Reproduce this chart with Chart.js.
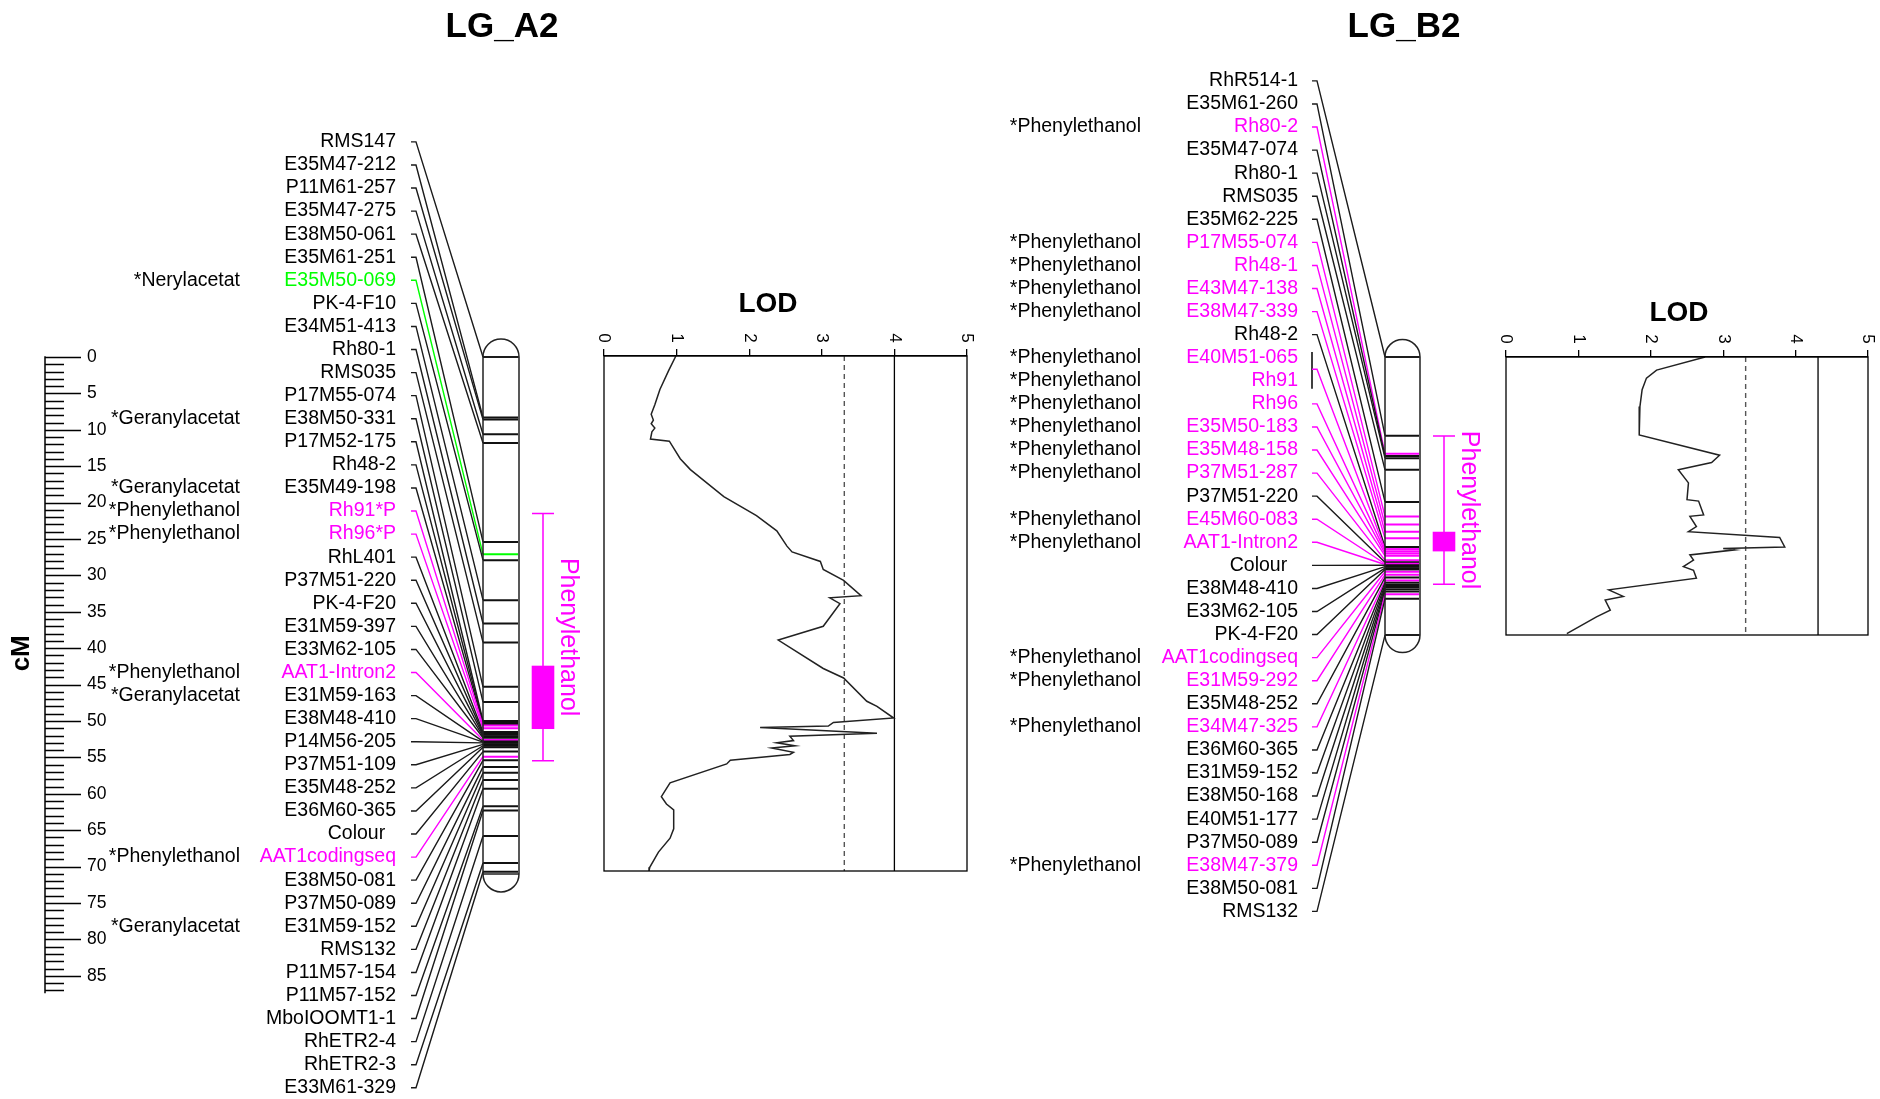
<!DOCTYPE html>
<html>
<head>
<meta charset="utf-8">
<script src="https://cdn.jsdelivr.net/npm/chart.js@4.4.1/dist/chart.umd.min.js"></script>
<style>
  body { margin: 0; background: #fff; }
  #wrap { position: relative; width: 1880px; height: 1099px; }
  canvas { position: absolute; }
</style>
</head>
<body>
<div id="wrap">
  <canvas id="mapa" width="1880" height="1099" style="left:0;top:0"></canvas>
  <canvas id="lodA" width="440" height="620" style="left:560px;top:270px"></canvas>
  <canvas id="lodB" width="420" height="380" style="left:1460px;top:270px"></canvas>
</div>
<script>
// ---- LG_A2 ----
const a2Markers = ['RMS147','E35M47-212','P11M61-257','E35M47-275','E38M50-061','E35M61-251','E35M50-069',
  'PK-4-F10','E34M51-413','Rh80-1','RMS035','P17M55-074','E38M50-331','P17M52-175','Rh48-2','E35M49-198',
  'Rh91*P','Rh96*P','RhL401','P37M51-220','PK-4-F20','E31M59-397','E33M62-105','AAT1-Intron2','E31M59-163',
  'E38M48-410','P14M56-205','P37M51-109','E35M48-252','E36M60-365','Colour  ','AAT1codingseq','E38M50-081',
  'P37M50-089','E31M59-152','RMS132','P11M57-154','P11M57-152','MboIOOMT1-1','RhETR2-4','RhETR2-3','E33M61-329'];
const a2Pos = [0, 8.3, 8.6, 10.6, 11.8, 25.4, 27.1, 27.9, 33.4, 36.6, 39.2, 45.3, 47.4, 50.0, 50.2, 50.4,
  50.6, 51.0, 51.5, 51.7, 51.9, 52.1, 52.3, 52.6, 52.8, 52.9, 53.0, 53.2, 53.4, 53.6, 54.2, 54.9, 55.4,
  56.3, 57.1, 58.1, 59.3, 61.7, 62.3, 65.8, 69.5, 70.7];
const a2Type = 'kkkkkkgkkkkkkkkkmmkkkkkmkkkkkkkmkkkkkkkkkk'.split('');
const a2NoteRows = [7, 13, 16, 17, 18, 24, 25, 32, 35];
const a2NoteText = ['*Nerylacetat','*Geranylacetat','*Geranylacetat','*Phenylethanol','*Phenylethanol',
  '*Phenylethanol','*Geranylacetat','*Phenylethanol','*Geranylacetat'];
const a2Length = 71.0;
const a2Qtl = [21.5, 42.4, 51.1, 55.45];   // interval start, box start, box end, interval end (cM)

// ---- LG_B2 ----
const b2Markers = ['RhR514-1','E35M61-260','Rh80-2','E35M47-074','Rh80-1','RMS035','E35M62-225','P17M55-074',
  'Rh48-1','E43M47-138','E38M47-339','Rh48-2','E40M51-065','Rh91','Rh96','E35M50-183','E35M48-158',
  'P37M51-287','P37M51-220','E45M60-083','AAT1-Intron2','Colour  ','E38M48-410','E33M62-105','PK-4-F20',
  'AAT1codingseq','E31M59-292','E35M48-252','E34M47-325','E36M60-365','E31M59-152','E38M50-168',
  'E40M51-177','P37M50-089','E38M47-379','E38M50-081','RMS132'];
const b2Pos = [0, 10.8, 13.3, 13.6, 13.9, 15.5, 19.9, 21.9, 23.0, 24.0, 24.9, 26.1, 26.4, 26.4, 26.7, 27.0,
  27.3, 27.9, 28.2, 28.4, 28.5, 28.6, 28.8, 29.0, 29.2, 29.5, 29.9, 30.3, 30.7, 31.0, 31.3, 31.6, 31.9,
  32.2, 32.6, 33.2, 38.2];
const b2Type = 'kkmkkkkmmmmkmmmmmmkmmkkkkmmkmkkkkkmkk'.split('');
const b2NoteRows = [3, 8, 9, 10, 11, 13, 14, 15, 16, 17, 18, 20, 21, 26, 27, 29, 35];
const b2NoteText = b2NoteRows.map(() => '*Phenylethanol');
const b2Shared = [13, 14];   // these two rows share one connector
const b2Length = 38.2;
const b2Qtl = [10.85, 24.0, 26.7, 31.2];

// ---- LOD profiles (cM, LOD) ----
const lodA_cM = [0, 2.0, 4.6, 6.7, 8.0, 8.8, 9.3, 9.9, 10.4, 11.4, 11.7, 14.1, 15.6, 19.3, 21.9, 24.0, 26.1,
  26.9, 28.2, 29.3, 30.8, 32.9, 33.2, 34.0, 37.1, 39.0, 42.9, 44.2, 47.4, 48.1, 49.7, 50.3, 50.8, 51.0,
  51.8, 52.2, 52.8, 53.1, 53.5, 53.8, 54.4, 54.7, 55.5, 56.0, 58.6, 59.7, 60.5, 61.5, 62.3, 64.9, 66.2,
  68.1, 70.2, 70.7];
const lodA_val = [0.99, 0.89, 0.77, 0.70, 0.65, 0.68, 0.65, 0.70, 0.66, 0.64, 0.90, 1.05, 1.19, 1.65, 2.10,
  2.38, 2.52, 2.59, 2.98, 3.02, 3.30, 3.54, 3.11, 3.25, 3.02, 2.40, 3.02, 3.30, 3.62, 3.76, 3.99, 3.16,
  3.09, 2.15, 3.76, 2.56, 2.61, 2.38, 2.63, 2.31, 2.61, 2.56, 1.74, 1.69, 0.91, 0.84, 0.79, 0.86, 0.96,
  0.96, 0.91, 0.75, 0.63, 0.62];
const lodB_cM = [0, 1.8, 2.9, 4.5, 6.8, 10.7, 13.5, 14.5, 15.5, 17.3, 19.6, 19.8, 21.7, 21.9, 23.3, 24.0,
  24.8, 26.1, 26.3, 26.5, 27.2, 27.9, 28.8, 29.3, 30.4, 32.0, 32.9, 33.4, 34.8, 35.7, 38.0];
const lodB_val = [2.75, 2.08, 1.94, 1.88, 1.85, 1.84, 2.95, 2.84, 2.38, 2.52, 2.50, 2.66, 2.73, 2.54, 2.63,
  2.52, 3.78, 3.85, 3.00, 3.16, 2.54, 2.59, 2.45, 2.59, 2.63, 1.42, 1.62, 1.37, 1.44, 1.25, 0.84];
const lodTicks = [0, 1, 2, 3, 4, 5];
const thresholdA = [3.31, 4.0];
const thresholdB = [3.31, 4.31];

const rulerMax = 87;

// ---- drawing ----
const FONT = '"Liberation Sans", Arial, sans-serif';
const COL = { k: '#000000', m: '#FF00FF', g: '#00FF00' };
const CM_TOP = -49.04, CM_BOTTOM = 101.92;   // canvas height in cM
const ROW_STEP = 3.169;                      // label spacing in cM

const maps = [
  { title: 'LG_A2', titleX: 502, markers: a2Markers, pos: a2Pos, type: a2Type, noteRows: a2NoteRows,
    noteText: a2NoteText, length: a2Length, qtl: a2Qtl, firstRow: -29.55,
    noteX: 240, labelX: 396, tick0: 411, tick1: 416, left: 483, right: 519, qtlX: 543 },
  { title: 'LG_B2', titleX: 1404, markers: b2Markers, pos: b2Pos, type: b2Type, noteRows: b2NoteRows,
    noteText: b2NoteText, length: b2Length, qtl: b2Qtl, firstRow: -37.93, shared: b2Shared,
    noteX: 1141, labelX: 1298, tick0: 1312, tick1: 1317, left: 1385, right: 1420, qtlX: 1444 }
];

const rowY = (m, i) => m.firstRow + i * ROW_STEP;

function seg(points, color, width, order) {
  return { data: points, showLine: true, borderColor: color, borderWidth: width,
    pointRadius: 0, fill: false, tension: 0, order: order };
}

// markers further down the list are drawn on top, like the original plot
const datasets = [];
maps.forEach(m => {
  m.markers.forEach((name, i) => {
    const row = i + 1;
    const c = COL[m.type[i]];
    const ord = -i;
    if (!(m.shared && row === m.shared[0])) {
      let y0 = rowY(m, i);
      if (m.shared && row === m.shared[1]) y0 = (rowY(m, i - 1) + y0) / 2;
      datasets.push(seg([{ x: m.tick0, y: y0 }, { x: m.tick1, y: y0 }, { x: m.left, y: m.pos[i] }],
        m.type[i] === 'k' ? '#1a1a1a' : c, 1.4, ord));
    }
    datasets.push(seg([{ x: m.left, y: m.pos[i] }, { x: m.right - 1, y: m.pos[i] }],
      m.type[i] === 'k' ? '#111' : c, 2, ord));
  });
  if (m.shared) {
    const i0 = m.shared[0] - 1, i1 = m.shared[1] - 1;
    datasets.push(seg([{ x: m.tick0, y: rowY(m, i0) - 0.77 }, { x: m.tick0, y: rowY(m, i1) + 1.09 }],
      '#111', 1.6, 0));
  }
});

const mapDecor = {
  id: 'mapDecor',
  beforeDatasetsDraw(chart) {
    const { ctx, scales: { x, y } } = chart;
    ctx.save();
    ctx.fillStyle = '#fff';
    maps.forEach(m => { chromPath(ctx, x, y, m); ctx.fill(); });
    ctx.restore();
  },
  afterDatasetsDraw(chart) {
    const { ctx, scales: { x, y } } = chart;
    ctx.save();
    // cM ruler
    const rx = x.getPixelForValue(45);
    ctx.strokeStyle = '#000';
    ctx.lineWidth = 1.5;
    ctx.beginPath();
    ctx.moveTo(rx, y.getPixelForValue(-0.1));
    ctx.lineTo(rx, y.getPixelForValue(rulerMax + 0.4));
    for (let v = 0; v <= rulerMax; v++) {
      const py = Math.round(y.getPixelForValue(v)) + 0.5;
      ctx.moveTo(rx, py);
      ctx.lineTo(x.getPixelForValue(v % 5 === 0 ? 81 : 64), py);
    }
    ctx.stroke();
    ctx.fillStyle = '#000';
    ctx.font = '17.5px ' + FONT;
    ctx.textAlign = 'left';
    ctx.textBaseline = 'middle';
    for (let v = 0; v <= 85; v += 5) {
      ctx.fillText(String(v), x.getPixelForValue(87), y.getPixelForValue(v));
    }
    ctx.save();
    ctx.translate(x.getPixelForValue(22), y.getPixelForValue(40.7));
    ctx.rotate(-Math.PI / 2);
    ctx.font = 'bold 26px ' + FONT;
    ctx.textAlign = 'center';
    ctx.fillText('cM', 0, 0);
    ctx.restore();

    maps.forEach(m => {
      // chromosome outline
      ctx.strokeStyle = '#222';
      ctx.lineWidth = 1.5;
      chromPath(ctx, x, y, m);
      ctx.stroke();
      const L = x.getPixelForValue(m.left), R = x.getPixelForValue(m.right);
      ctx.beginPath();
      [0, m.length].forEach(v => {
        const py = y.getPixelForValue(v);
        ctx.moveTo(L, py); ctx.lineTo(R, py);
      });
      ctx.stroke();

      // QTL interval
      const qx = x.getPixelForValue(m.qtlX);
      const [lo, bLo, bHi, hi] = m.qtl.map(v => y.getPixelForValue(v));
      ctx.strokeStyle = COL.m;
      ctx.fillStyle = COL.m;
      ctx.lineWidth = 1.5;
      ctx.beginPath();
      ctx.moveTo(qx, lo); ctx.lineTo(qx, hi);
      ctx.moveTo(qx - 11, lo); ctx.lineTo(qx + 11, lo);
      ctx.moveTo(qx - 11, hi); ctx.lineTo(qx + 11, hi);
      ctx.stroke();
      ctx.fillRect(qx - 11.3, bLo, 22.6, bHi - bLo);
      ctx.save();
      ctx.translate(qx + 25, y.getPixelForValue((m.qtl[0] + m.qtl[3]) / 2));
      ctx.rotate(Math.PI / 2);
      ctx.font = '25px ' + FONT;
      ctx.textAlign = 'center';
      ctx.textBaseline = 'middle';
      ctx.fillText('Phenylethanol', 0, 0);
      ctx.restore();

      // marker labels and trait notes
      ctx.font = '19.5px ' + FONT;
      ctx.textAlign = 'right';
      ctx.textBaseline = 'middle';
      m.markers.forEach((name, i) => {
        ctx.fillStyle = COL[m.type[i]];
        ctx.fillText(name, x.getPixelForValue(m.labelX), y.getPixelForValue(rowY(m, i)));
      });
      ctx.fillStyle = '#000';
      m.noteRows.forEach((r, k) => {
        ctx.fillText(m.noteText[k], x.getPixelForValue(m.noteX), y.getPixelForValue(rowY(m, r - 1)));
      });

      // title
      ctx.font = 'bold 35px ' + FONT;
      ctx.textAlign = 'center';
      ctx.fillText(m.title, x.getPixelForValue(m.titleX), y.getPixelForValue(-45.3));
    });
    ctx.restore();
  }
};

function chromPath(ctx, x, y, m) {
  const L = x.getPixelForValue(m.left), R = x.getPixelForValue(m.right);
  const t = y.getPixelForValue(0), b = y.getPixelForValue(m.length);
  const cx = (L + R) / 2, r = (R - L) / 2;
  ctx.beginPath();
  ctx.moveTo(L, b);
  ctx.lineTo(L, t);
  ctx.arc(cx, t, r, Math.PI, 0, false);
  ctx.lineTo(R, b);
  ctx.arc(cx, b, r, 0, Math.PI, false);
  ctx.closePath();
}

new Chart(document.getElementById('mapa'), {
  type: 'scatter',
  data: { datasets: datasets },
  options: {
    responsive: false,
    animation: false,
    events: [],
    layout: { padding: 0, autoPadding: false },
    plugins: { legend: { display: false }, tooltip: { enabled: false } },
    scales: {
      x: { type: 'linear', min: 0, max: 1880, display: false },
      y: { type: 'linear', min: CM_TOP, max: CM_BOTTOM, reverse: true, display: false }
    }
  },
  plugins: [mapDecor]
});

// ---- LOD plots ----
const lodDecor = {
  id: 'lodDecor',
  afterDraw(chart, args, opts) {
    const { ctx, chartArea: a, scales: { x } } = chart;
    ctx.save();
    ctx.strokeStyle = '#000';
    ctx.lineWidth = 1.3;
    ctx.strokeRect(a.left, a.top, a.right - a.left, a.bottom - a.top);
    ctx.fillStyle = '#000';
    ctx.font = '17px ' + FONT;
    ctx.textAlign = 'center';
    ctx.textBaseline = 'middle';
    lodTicks.forEach(v => {
      ctx.save();
      ctx.translate(x.getPixelForValue(v), a.top - 18);
      ctx.rotate(Math.PI / 2);
      ctx.fillText(String(v), 0, 0);
      ctx.restore();
    });
    ctx.font = 'bold 28px ' + FONT;
    ctx.fillText('LOD', a.left + opts.titleDX, a.top + opts.titleDY);
    ctx.restore();
  }
};

function lodChart(id, cms, vals, len, thr, pad, titleDX, titleDY) {
  new Chart(document.getElementById(id), {
    type: 'scatter',
    data: {
      datasets: [
        { data: cms.map((c, i) => ({ x: vals[i], y: c })), showLine: true, borderColor: '#222',
          borderWidth: 1.5, pointRadius: 0, tension: 0 },
        { data: [{ x: thr[0], y: 0 }, { x: thr[0], y: len }], showLine: true, borderColor: '#555',
          borderWidth: 1.4, borderDash: [5, 4], pointRadius: 0 },
        { data: [{ x: thr[1], y: 0 }, { x: thr[1], y: len }], showLine: true, borderColor: '#000',
          borderWidth: 1.3, pointRadius: 0 }
      ]
    },
    options: {
      responsive: false,
      animation: false,
      events: [],
      layout: { padding: pad, autoPadding: false },
      plugins: { legend: { display: false }, tooltip: { enabled: false },
        lodDecor: { titleDX: titleDX, titleDY: titleDY } },
      scales: {
        x: {
          type: 'linear', position: 'top', min: 0, max: 5,
          afterFit: s => { s.height = 0; },
          ticks: { display: false, stepSize: 1 },
          grid: { drawOnChartArea: false, drawTicks: true, tickLength: 7, color: '#000', lineWidth: 1.3 },
          border: { display: true, color: '#000', width: 1.3 }
        },
        y: { type: 'linear', min: 0, max: len, reverse: true, display: false }
      }
    },
    plugins: [lodDecor]
  });
}

lodChart('lodA', lodA_cM, lodA_val, a2Length - 0.3, thresholdA,
  { left: 44, top: 86, right: 33, bottom: 19 }, 164, -52);
lodChart('lodB', lodB_cM, lodB_val, b2Length, thresholdB,
  { left: 46, top: 87, right: 12, bottom: 15 }, 173, -44);
</script>
</body>
</html>
